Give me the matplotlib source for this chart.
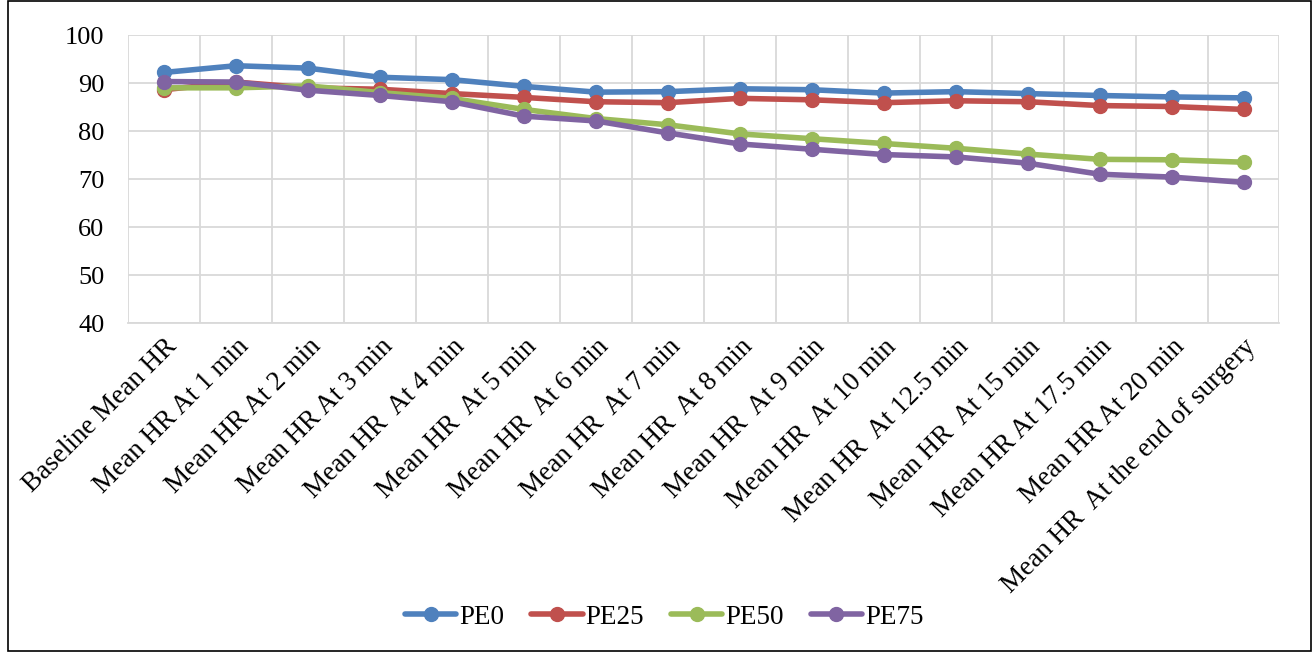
import matplotlib.pyplot as plt
from matplotlib.patches import Rectangle

plt.rcParams['font.family'] = ['Liberation Serif', 'DejaVu Serif']

# categories (time points)
labels = ['Baseline Mean HR', 'Mean HR At 1 min', 'Mean HR At 2 min', 'Mean HR At 3 min',
          'Mean HR  At 4 min', 'Mean HR  At 5 min', 'Mean HR  At 6 min', 'Mean HR  At 7 min',
          'Mean HR  At 8 min', 'Mean HR  At 9 min', 'Mean HR  At 10 min', 'Mean HR  At 12.5 min',
          'Mean HR  At 15 min', 'Mean HR At 17.5 min', 'Mean HR At 20 min',
          'Mean HR  At the end of surgery']

# mean heart rate per group
pe0 = [92.2, 93.6, 93.1, 91.2, 90.7, 89.3, 88.1, 88.2, 88.8, 88.6, 87.9, 88.2, 87.8, 87.4, 87.1, 86.9]
pe25 = [88.6, 90.2, 89.0, 88.7, 87.8, 87.0, 86.1, 85.9, 86.8, 86.5, 85.9, 86.3, 86.1, 85.3, 85.1, 84.5]
pe50 = [89.0, 89.0, 89.4, 88.0, 86.8, 84.5, 82.6, 81.3, 79.4, 78.4, 77.4, 76.4, 75.2, 74.1, 74.0, 73.5]
pe75 = [90.3, 90.2, 88.5, 87.4, 86.1, 83.1, 82.1, 79.6, 77.3, 76.2, 75.1, 74.6, 73.3, 71.0, 70.4, 69.3]

series = [('PE0', pe0, '#4F81BD'), ('PE25', pe25, '#C0504D'),
          ('PE50', pe50, '#9BBB59'), ('PE75', pe75, '#8064A2')]

fig = plt.figure(figsize=(13.15, 6.52), dpi=100)
ax = fig.add_axes([0.0973, 0.5046, 0.8757, 0.4417])

x = list(range(len(labels)))
for name, vals, col in series:
    ax.plot(x, vals, color=col, lw=4, marker='o', ms=10, label=name, solid_capstyle='round')

ax.set_ylim(40, 100)
ax.set_yticks(range(40, 101, 10))
ax.set_xlim(-0.5, len(labels) - 0.5)
ax.set_xticks(x)
ax.set_xticklabels(labels, rotation=45, ha='right', rotation_mode='anchor', fontsize=19.5)
ax.tick_params(axis='y', labelsize=19, length=0, pad=17)
ax.tick_params(axis='x', length=0, pad=8)

# grid lines between categories, like Excel
ax.set_xticks([i - 0.5 for i in range(len(labels) + 1)], minor=True)
ax.grid(True, which='minor', axis='x', color='#D9D9D9', lw=1.3)
ax.grid(True, which='major', axis='y', color='#D9D9D9', lw=1.3)
ax.tick_params(which='minor', length=0)
ax.set_axisbelow(True)
for s in ['top', 'right', 'left']:
    ax.spines[s].set_visible(False)
ax.spines['bottom'].set_color('#D9D9D9')
ax.spines['bottom'].set_linewidth(1.3)

fig.legend(loc='center', bbox_to_anchor=(0.505, 0.053), ncol=4, frameon=False,
           fontsize=19.5, handlelength=1.9, columnspacing=1.0, handletextpad=0.1)

fig.patches.append(Rectangle((0.006, 0.002), 0.991, 0.996, transform=fig.transFigure,
                             fill=False, edgecolor='black', lw=1.2))

fig.savefig('out.png', dpi=100)
